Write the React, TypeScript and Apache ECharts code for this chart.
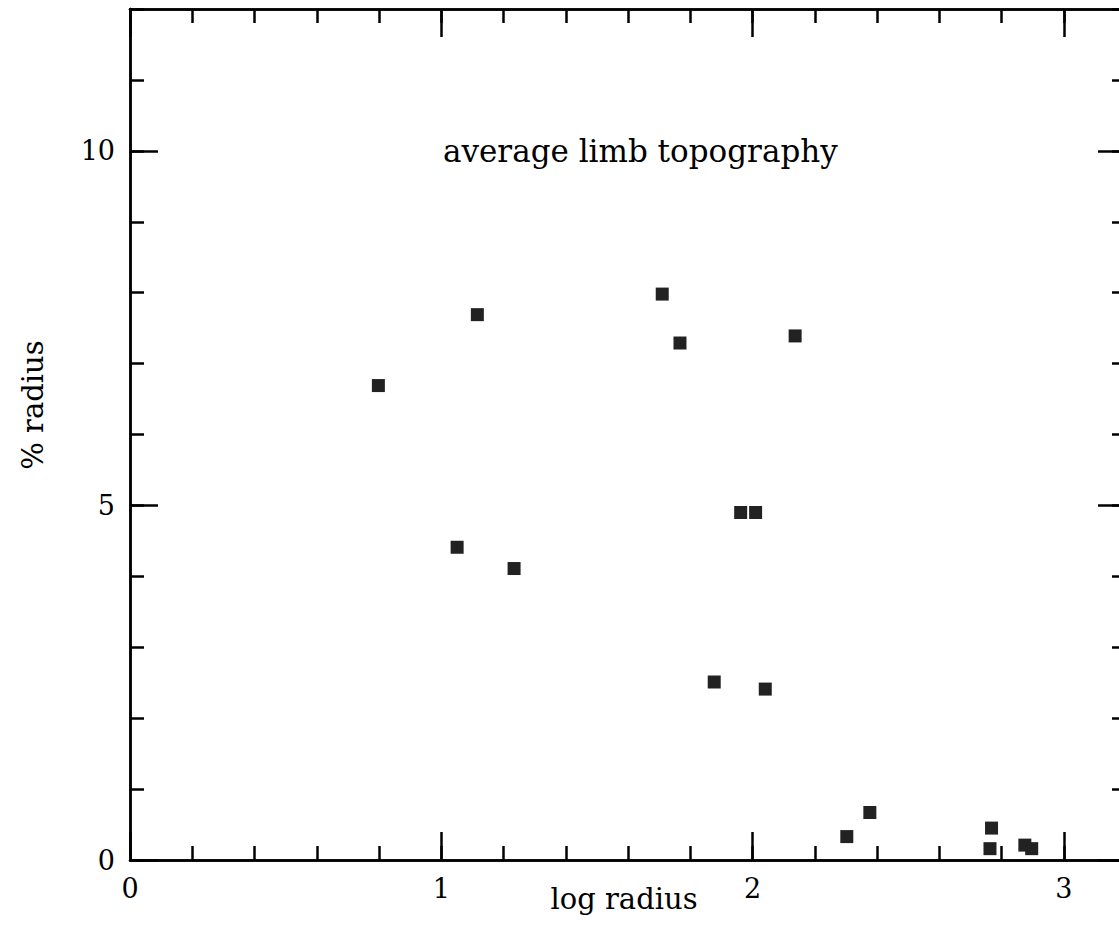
import React, { useEffect, useRef } from "react";
import * as echarts from "echarts";

const xValues = [0.798, 1.051, 1.116, 1.234, 1.710, 1.767, 1.877, 1.962, 2.010, 2.041, 2.137, 2.303, 2.377, 2.768, 2.763, 2.875, 2.897];
const yValues = [6.69, 4.41, 7.69, 4.11, 7.98, 7.29, 2.51, 4.90, 4.90, 2.41, 7.39, 0.33, 0.67, 0.45, 0.16, 0.21, 0.16];
const xMajorTicks = [0, 1, 2, 3];
const yMajorTicks = [0, 5, 10];
const titleText = "average limb topography";
const xName = "log radius";
const yName = "% radius";

const FONT = "DejaVu Serif";

export default function App() {
  const ref = useRef<HTMLDivElement>(null);
  useEffect(() => {
    document.body.style.margin = "0";
    document.body.style.overflow = "hidden";
    const chart = echarts.init(ref.current!, null, { renderer: "svg" });
    const data = xValues.map((x, i) => [x, yValues[i]]);
    const lineStyle = { color: "#000", width: 2.5 };
    const base = (pos: string) => ({
      type: "value",
      position: pos,
      axisLine: { show: true, lineStyle, onZero: false },
      splitLine: { show: false },
      minorTick: { show: false },
      minorSplitLine: { show: false },
    });
    const xMin = 0, xMax = 3.2, yMin = 0, yMax = 12;
    const xAxes = ["bottom", "top"].flatMap((pos) => [
      {
        ...base(pos), min: xMin, max: xMax, interval: 0.2,
        axisTick: { show: true, inside: true, length: 14, lineStyle },
        axisLabel: { show: false },
      },
      {
        ...base(pos), min: xMin, max: xMax, interval: 1,
        axisTick: { show: true, inside: true, length: 28, lineStyle, customValues: xMajorTicks },
        axisLabel: pos === "bottom"
          ? { show: true, customValues: xMajorTicks, fontFamily: FONT, fontSize: 27, color: "#000", margin: 15 }
          : { show: false },
      },
    ]);
    const yAxes = ["left", "right"].flatMap((pos) => [
      {
        ...base(pos), min: yMin, max: yMax, interval: 1,
        axisTick: { show: true, inside: true, length: 14, lineStyle },
        axisLabel: { show: false },
      },
      {
        ...base(pos), min: yMin, max: yMax, interval: 5,
        axisTick: { show: true, inside: true, length: 28, lineStyle, customValues: yMajorTicks },
        axisLabel: pos === "left"
          ? { show: true, customValues: yMajorTicks, fontFamily: FONT, fontSize: 27, color: "#000", margin: 15 }
          : { show: false },
      },
    ]);
    chart.setOption({
      animation: false,
      backgroundColor: "#fff",
      grid: { left: 130, right: 1, top: 9, bottom: 75, containLabel: false },
      xAxis: xAxes,
      yAxis: yAxes,
      series: [
        {
          type: "scatter",
          xAxisIndex: 0,
          yAxisIndex: 0,
          symbol: "rect",
          symbolSize: 13,
          itemStyle: { color: "#222", opacity: 1 },
          data,
        },
      ],
      graphic: [
        {
          type: "text", left: 443, top: 135,
          style: { text: titleText, font: `31px '${FONT}'`, fill: "#000" },
        },
        {
          type: "text", x: 624, y: 899,
          style: { text: xName, font: `29px '${FONT}'`, fill: "#000", align: "center", verticalAlign: "middle" },
        },
        {
          type: "text", x: 33, y: 405, rotation: Math.PI / 2,
          style: { text: yName, font: `29px '${FONT}'`, fill: "#000", align: "center", verticalAlign: "middle" },
        },
      ],
    });
    return () => chart.dispose();
  }, []);
  return <div ref={ref} style={{ position: "fixed", left: 0, top: 0, width: 1127, height: 935 }} />;
}
